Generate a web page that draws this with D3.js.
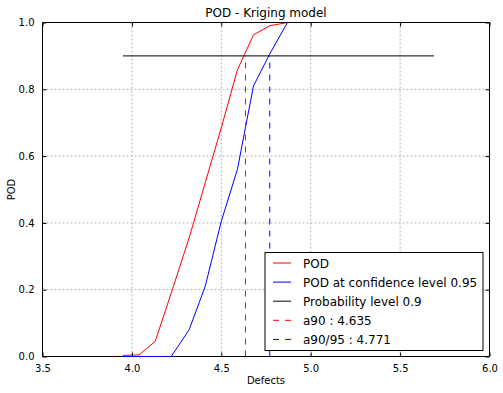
<!DOCTYPE html>
<html>
<head>
<meta charset="utf-8">
<script src="https://cdn.jsdelivr.net/npm/d3@7"></script>
<style>
  body { margin: 0; background: #fff; }
  text { font-family: "DejaVu Sans", sans-serif; fill: #000; }
</style>
</head>
<body>
<div id="chart"></div>
<script>
// Data
const defects = [3.95, 4.04, 4.13, 4.22, 4.32, 4.41, 4.50, 4.59, 4.68, 4.77,
                 4.87, 4.96, 5.05, 5.14, 5.23, 5.32, 5.41, 5.51, 5.60, 5.69];
const pod = [0.003, 0.005, 0.045, 0.19, 0.355, 0.52, 0.685, 0.858, 0.963, 0.99,
             1.0, 1.0, 1.0, 1.0, 1.0, 1.0, 1.0, 1.0, 1.0, 1.0];
const podConf = [0.0, 0.0, 0.0, 0.0, 0.08, 0.21, 0.405, 0.56, 0.81, 0.905,
                 1.0, 1.0, 1.0, 1.0, 1.0, 1.0, 1.0, 1.0, 1.0, 1.0];
const probLevel = 0.9;
const a90 = 4.635;
const a9095 = 4.771;
const xTicks = [3.5, 4.0, 4.5, 5.0, 5.5, 6.0];
const yTicks = [0.0, 0.2, 0.4, 0.6, 0.8, 1.0];
const legendLabels = ["POD", "POD at confidence level 0.95", "Probability level 0.9",
                      "a90 : 4.635", "a90/95 : 4.771"];

// Dimensions
const W = 503, H = 393;
const margin = { top: 22.5, right: 13.5, bottom: 36.5, left: 42.5 },
  width = W - margin.left - margin.right,
  height = H - margin.top - margin.bottom;

const svg = d3.select("#chart").append("svg")
  .attr("width", W).attr("height", H);

const g = svg.append("g")
  .attr("transform", "translate(" + margin.left + "," + margin.top + ")");

// Scales
const x = d3.scaleLinear().domain([3.5, 6.0]).range([0, width]);
const y = d3.scaleLinear().domain([0, 1]).range([height, 0]);

// Grid
g.append("g").selectAll("line").data(xTicks.slice(1, -1)).join("line")
  .attr("x1", d => x(d)).attr("x2", d => x(d))
  .attr("y1", 0).attr("y2", height)
  .attr("stroke", "#b0b0b0").attr("stroke-dasharray", "2,2");
g.append("g").selectAll("line").data(yTicks.slice(1, -1)).join("line")
  .attr("y1", d => y(d)).attr("y2", d => y(d))
  .attr("x1", 0).attr("x2", width)
  .attr("stroke", "#b0b0b0").attr("stroke-dasharray", "2,2");

// Bottom spine sits under the curves so the flat parts at 0 stay visible
g.append("line").attr("x1", 0).attr("x2", width)
  .attr("y1", height).attr("y2", height).attr("stroke", "black");

// Curves
const line = d3.line().x((d, i) => x(defects[i])).y(d => y(d));
g.append("path").datum(pod).attr("d", line)
  .attr("fill", "none").attr("stroke", "red").attr("stroke-width", 1);
g.append("path").datum(podConf).attr("d", line)
  .attr("fill", "none").attr("stroke", "blue").attr("stroke-width", 1);

// Probability level
g.append("line")
  .attr("x1", x(defects[0])).attr("x2", x(defects[defects.length - 1]))
  .attr("y1", y(probLevel)).attr("y2", y(probLevel))
  .attr("stroke", "black");

// a90 and a90/95
g.append("line")
  .attr("x1", x(a90)).attr("x2", x(a90))
  .attr("y1", y(0)).attr("y2", y(probLevel))
  .attr("stroke", "red").attr("stroke-dasharray", "6,6");
g.append("line")
  .attr("x1", x(a9095)).attr("x2", x(a9095))
  .attr("y1", y(0)).attr("y2", y(probLevel))
  .attr("stroke", "blue").attr("stroke-dasharray", "6,6");

// Axes (ticks inside, on all four sides)
const fmt = d3.format(".1f");
const xAxis = g.append("g").attr("transform", "translate(0," + height + ")")
  .call(d3.axisBottom(x).tickValues(xTicks).tickFormat(fmt).tickSizeInner(-4).tickSizeOuter(0).tickPadding(8));
const xAxisTop = g.append("g")
  .call(d3.axisTop(x).tickValues(xTicks).tickFormat("").tickSizeInner(-4).tickSizeOuter(0));
const yAxis = g.append("g")
  .call(d3.axisLeft(y).tickValues(yTicks).tickFormat(fmt).tickSizeInner(-4).tickSizeOuter(0).tickPadding(8));
const yAxisRight = g.append("g").attr("transform", "translate(" + width + ",0)")
  .call(d3.axisRight(y).tickValues(yTicks).tickFormat("").tickSizeInner(-4).tickSizeOuter(0));
[xAxis, xAxisTop, yAxis, yAxisRight].forEach(a => {
  a.select(".domain").remove();
  a.selectAll("text").style("font-size", "10px").style("font-family", "DejaVu Sans, sans-serif");
});

// Other spines on top
g.append("path")
  .attr("d", "M0," + height + "V0H" + width + "V" + height)
  .attr("fill", "none").attr("stroke", "black");

// Title and labels
svg.append("text").attr("x", margin.left + width / 2).attr("y", 17)
  .attr("text-anchor", "middle").style("font-size", "12px").text("POD - Kriging model");
svg.append("text").attr("x", margin.left + width / 2).attr("y", 384)
  .attr("text-anchor", "middle").style("font-size", "10px").text("Defects");
svg.append("text")
  .attr("transform", "translate(15," + (margin.top + height / 2) + ") rotate(-90)")
  .attr("text-anchor", "middle").style("font-size", "10px").text("POD");

// Legend
const legendColors = ["red", "blue", "black", "red", "blue"];
const legendDash = [null, null, null, "6,6", "6,6"];
const lg = g.append("g").attr("transform", "translate(" + (265 - margin.left) + "," + (252.5 - margin.top) + ")");
lg.append("rect").attr("width", 218).attr("height", 98)
  .attr("fill", "white").attr("stroke", "black");
const item = lg.selectAll(".item").data(legendLabels).join("g")
  .attr("class", "item")
  .attr("transform", (d, i) => "translate(0," + (10.5 + i * 19.1) + ")");
item.append("line")
  .attr("x1", 8).attr("x2", 26).attr("y1", 0).attr("y2", 0)
  .attr("stroke", (d, i) => legendColors[i])
  .attr("stroke-dasharray", (d, i) => legendDash[i]);
item.append("text").attr("x", 38).attr("y", 4.5)
  .style("font-size", "12px").text(d => d);
</script>
</body>
</html>
